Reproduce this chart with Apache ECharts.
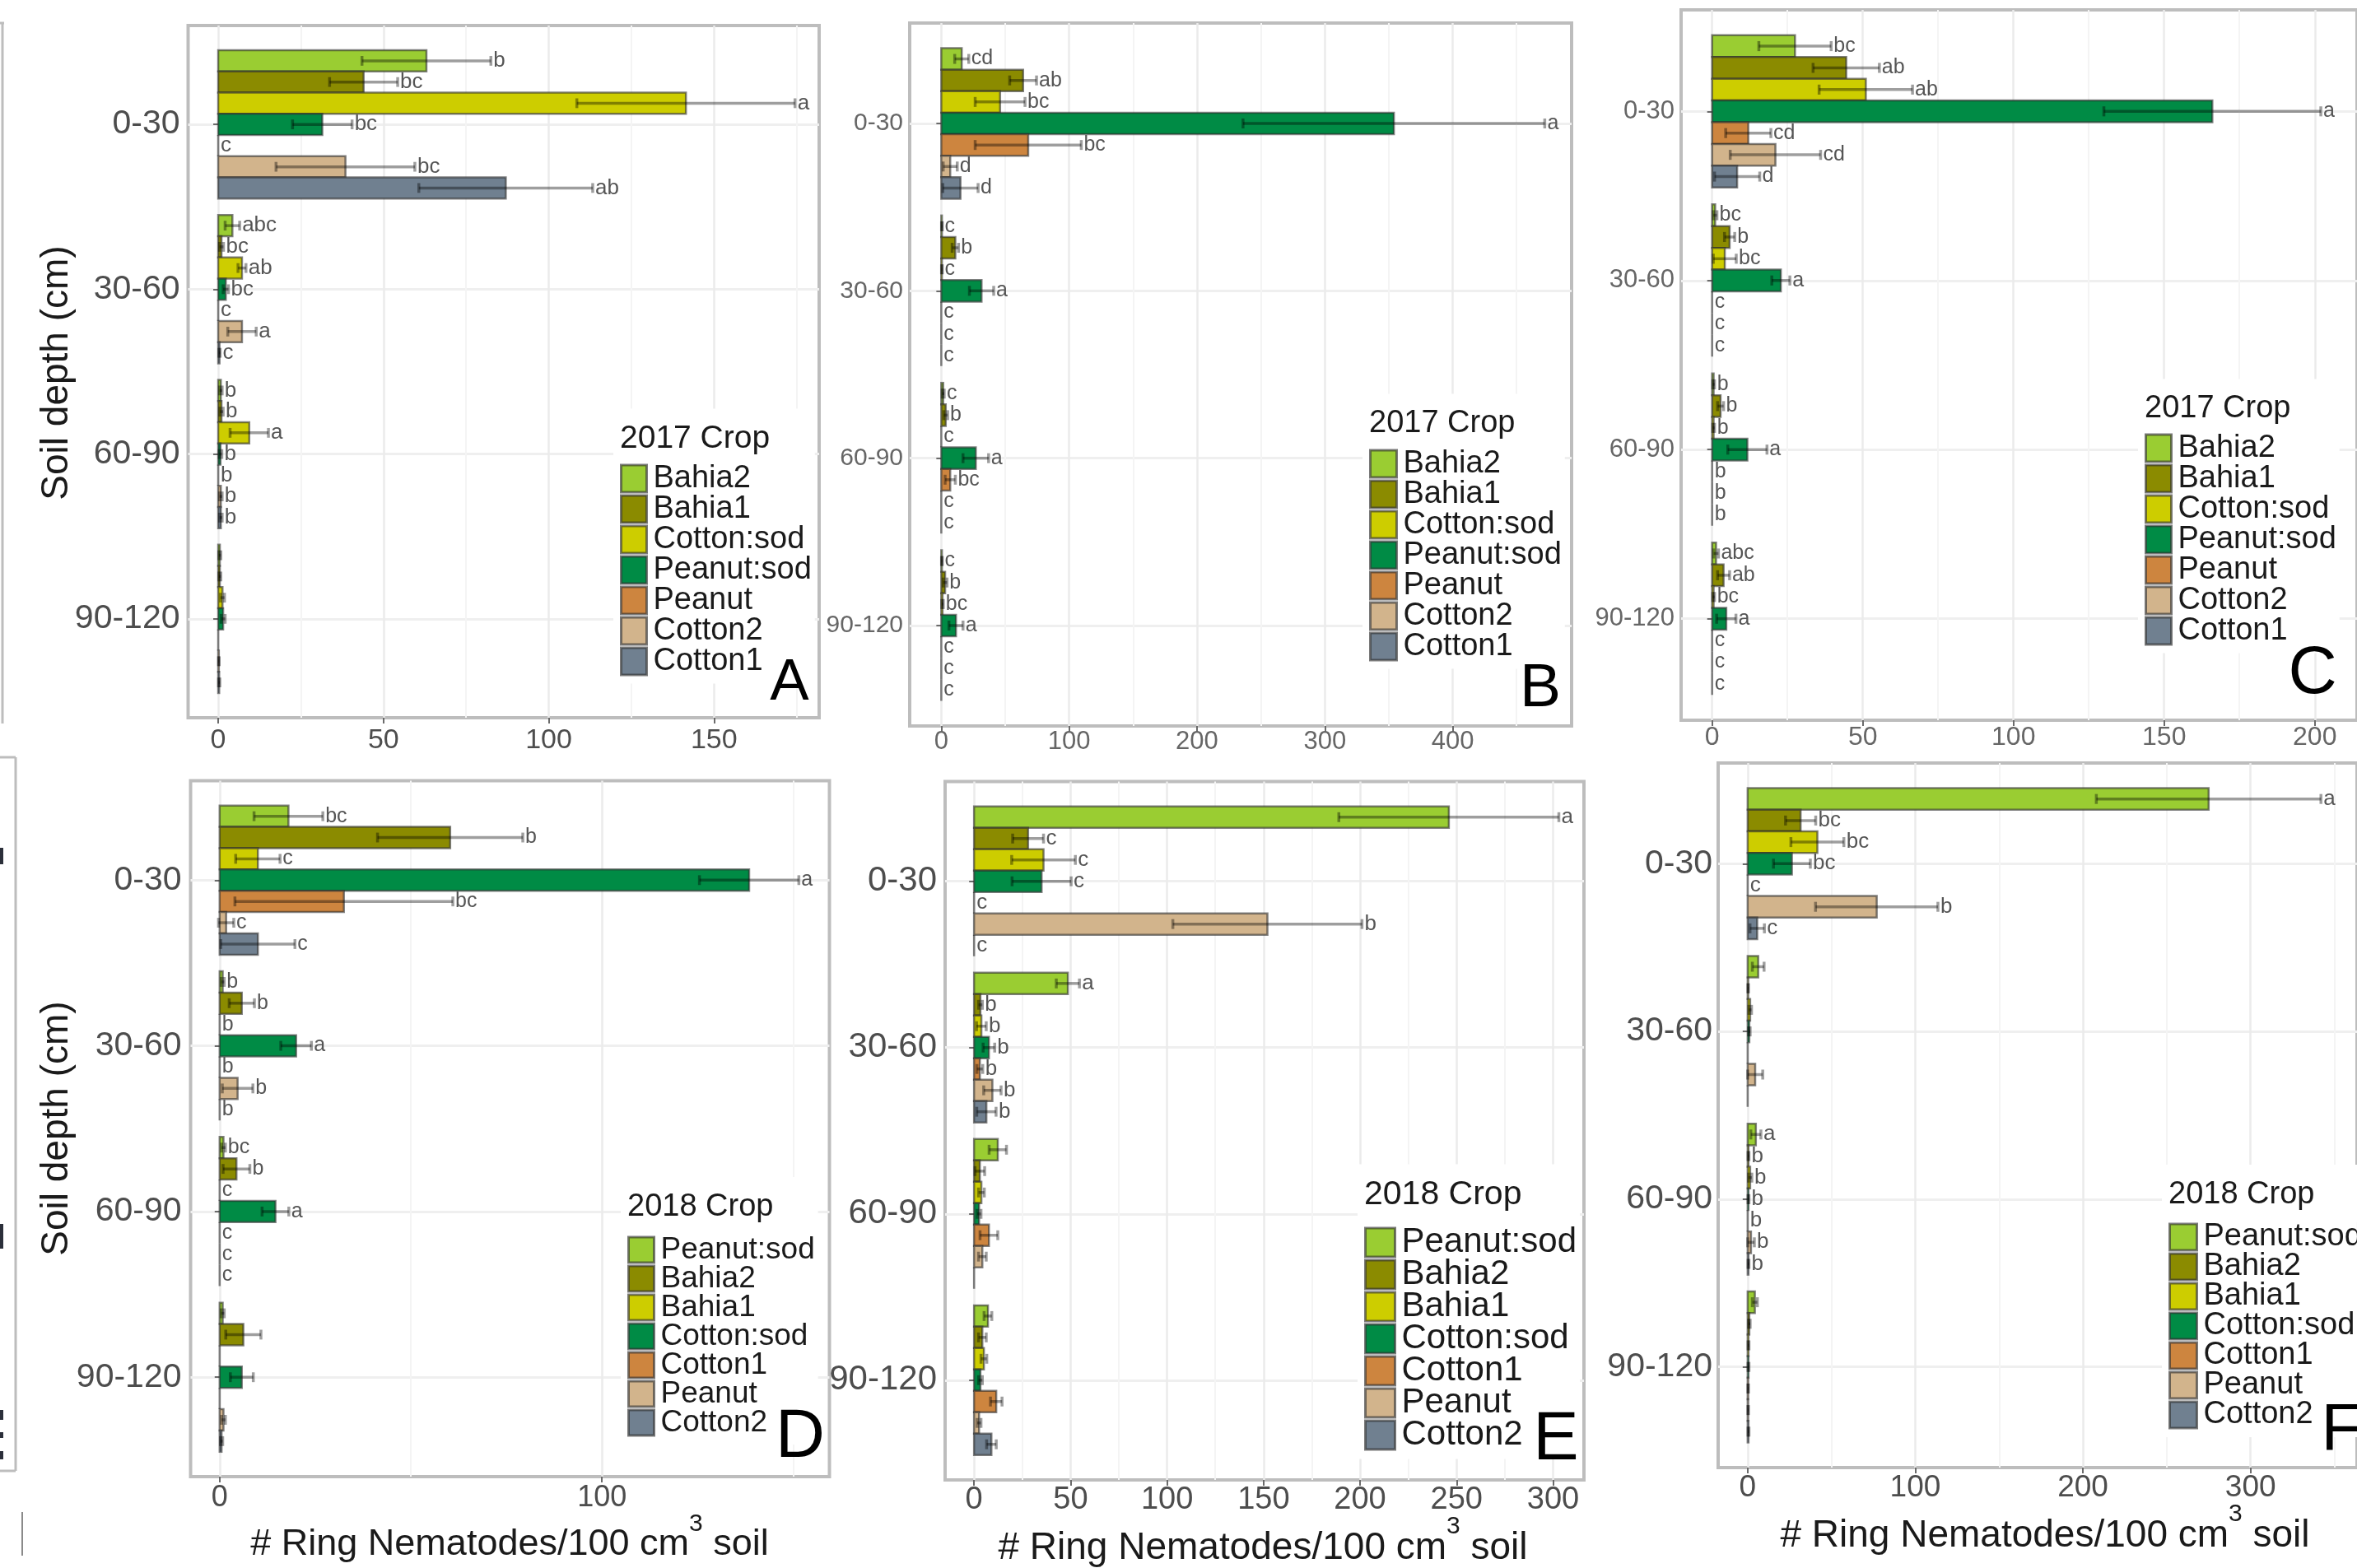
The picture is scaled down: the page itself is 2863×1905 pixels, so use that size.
<!DOCTYPE html>
<html>
<head>
<meta charset="utf-8">
<script src="https://cdn.jsdelivr.net/npm/echarts@6/dist/echarts.min.js"></script>
<style>
  html, body { margin: 0; padding: 0; background: #ffffff; }
  #chart { width: 2863px; height: 1905px; }
</style>
</head>
<body>
<div id="chart"></div>
<script>
// ---------- categories ----------
const depths = ['0-30', '30-60', '60-90', '90-120'];
const crops2017 = ['Bahia2', 'Bahia1', 'Cotton:sod', 'Peanut:sod', 'Peanut', 'Cotton2', 'Cotton1'];
const crops2018 = ['Peanut:sod', 'Bahia2', 'Bahia1', 'Cotton:sod', 'Cotton1', 'Peanut', 'Cotton2'];

// ---------- values: rows = depth, columns = crop (legend order) ----------
// Panel A (2017)
const meanA = [
  [63, 44, 141.5, 31.5, 0, 38.5, 87],
  [4.3, 1, 7.2, 2.3, 0, 7.2, 0.4],
  [0.8, 1, 9.4, 0.7, 0, 0.8, 0.8],
  [0.5, 0.5, 1.3, 1.5, 0, 0.2, 0.3]
];
const seA = [
  [19.5, 10.3, 33, 9, 0, 21, 26.3],
  [2.2, 0.6, 1.2, 0.8, 0, 4.3, 0.2],
  [0.4, 0.5, 5.8, 0.4, 0, 0.4, 0.4],
  [0.3, 0.3, 0.6, 0.6, 0, 0.1, 0.2]
];
const letterA = [
  ['b', 'bc', 'a', 'bc', 'c', 'bc', 'ab'],
  ['abc', 'bc', 'ab', 'bc', 'c', 'a', 'c'],
  ['b', 'b', 'a', 'b', 'b', 'b', 'b'],
  ['', '', '', '', '', '', '']
];
// Panel B (2017)
const meanB = [
  [16, 64, 46, 354, 68, 7, 15],
  [0.5, 11, 0.5, 31.5, 0, 0, 0],
  [1.5, 3.5, 0, 27, 7, 0, 0],
  [0.5, 3, 1, 11.5, 0, 0, 0]
];
const seB = [
  [5.5, 10.5, 19.5, 118, 41.5, 5.5, 13.8],
  [0.3, 2.5, 0.3, 9.5, 0, 0, 0],
  [0.8, 1.5, 0, 10, 4, 0, 0],
  [0.3, 1.5, 0.6, 5.5, 0, 0, 0]
];
const letterB = [
  ['cd', 'ab', 'bc', 'a', 'bc', 'd', 'd'],
  ['c', 'b', 'c', 'a', 'c', 'c', 'c'],
  ['c', 'b', 'c', 'a', 'bc', 'c', 'c'],
  ['c', 'b', 'bc', 'a', 'c', 'c', 'c']
];
// Panel C (2017)
const meanC = [
  [27.5, 44.5, 51, 166, 12, 21, 8.3],
  [1, 5.8, 4.2, 22.8, 0, 0, 0],
  [0.5, 2.8, 0.5, 11.7, 0, 0, 0],
  [1.3, 3.8, 0.5, 4.7, 0, 0, 0]
];
const seC = [
  [12, 11, 15.5, 36, 7.5, 15, 7.5],
  [0.6, 1.7, 3.8, 3, 0, 0, 0],
  [0.3, 1, 0.3, 6.5, 0, 0, 0],
  [0.8, 2, 0.3, 3.2, 0, 0, 0]
];
const letterC = [
  ['bc', 'ab', 'ab', 'a', 'cd', 'cd', 'd'],
  ['bc', 'b', 'bc', 'a', 'c', 'c', 'c'],
  ['b', 'b', 'b', 'a', 'b', 'b', 'b'],
  ['abc', 'ab', 'bc', 'a', 'c', 'c', 'c']
];
// Panel D (2018)
const meanD = [
  [18, 60.3, 10, 138.5, 32.5, 1.7, 10],
  [0.8, 5.8, 0, 20, 0, 4.7, 0],
  [1, 4.4, 0, 14.6, 0, 0, 0],
  [0.8, 6.2, 0, 5.8, 0, 1, 0.5]
];
const seD = [
  [9, 19, 5.8, 13, 28.5, 2, 9.7],
  [0.4, 3.3, 0, 4, 0, 4, 0],
  [0.5, 3.5, 0, 3.5, 0, 0, 0],
  [0.4, 4.6, 0, 3, 0, 0.5, 0.3]
];
const letterD = [
  ['bc', 'b', 'c', 'a', 'bc', 'c', 'c'],
  ['b', 'b', 'b', 'a', 'b', 'b', 'b'],
  ['bc', 'b', 'c', 'a', 'c', 'c', 'c'],
  ['', '', '', '', '', '', '']
];
// Panel E (2018)
const meanE = [
  [246, 28, 36, 35, 0, 152, 0],
  [48.6, 3.3, 3.8, 7.7, 3, 9.5, 6.4],
  [12.3, 3, 3.8, 2.6, 7.7, 4.3, 0],
  [7.2, 4.3, 5.1, 3.3, 11.5, 2.6, 9]
];
const seE = [
  [57, 8, 16.5, 15.3, 0, 49, 0],
  [6, 1, 2.5, 3, 1.5, 4.5, 5],
  [4.5, 2.5, 1.5, 1, 4.6, 2, 0],
  [2, 2, 1.5, 1, 3, 1, 2.5]
];
const letterE = [
  ['a', 'c', 'c', 'c', 'c', 'b', 'c'],
  ['a', 'b', 'b', 'b', 'b', 'b', 'b'],
  ['', '', '', '', '', '', ''],
  ['', '', '', '', '', '', '']
];
// Panel F (2018)
const meanF = [
  [275, 31.6, 41.6, 26.4, 0, 77, 5.7],
  [6.3, 0.3, 1.5, 1, 0, 4.5, 0],
  [4.9, 0.5, 1.5, 0.5, 0, 2, 0.5],
  [4.3, 1, 0.5, 0.5, 0.3, 0.3, 0.5]
];
const seF = [
  [67, 9, 15.8, 11, 0, 36.5, 4.3],
  [3.5, 0.2, 0.8, 0.5, 0, 4.5, 0],
  [3, 0.3, 1, 0.3, 0, 2, 0.3],
  [1.5, 0.5, 0.3, 0.3, 0.2, 0.2, 0.3]
];
const letterF = [
  ['a', 'bc', 'bc', 'bc', 'c', 'b', 'c'],
  ['', '', '', '', '', '', ''],
  ['a', 'b', 'b', 'b', 'b', 'b', 'b'],
  ['', '', '', '', '', '', '']
];

// ---------- tick labels ----------
const ticksA = [0, 50, 100, 150];
const minorA = [25, 75, 125, 175];
const ticksB = [0, 100, 200, 300, 400];
const minorB = [50, 150, 250, 350, 450];
const ticksC = [0, 50, 100, 150, 200];
const minorC = [25, 75, 125, 175];
const ticksD = [0, 100];
const minorD = [50, 150];
const ticksE = [0, 50, 100, 150, 200, 250, 300];
const minorE = [25, 75, 125, 175, 225, 275];
const ticksF = [0, 100, 200, 300];
const minorF = [50, 150, 250, 350];
const depthTicks = depths.map((d, i) => i + 1);

const legendTitle2017 = '2017 Crop';
const legendTitle2018 = '2018 Crop';
const xTitle = ['# Ring Nematodes/100 cm', '3', ' soil'];
const yTitle = 'Soil depth (cm)';

// ---------- styling ----------
const FONT = "'Liberation Sans', Arial, Helvetica, sans-serif";
const palette = ['#9ACD32', '#8B8B00', '#CDCD00', '#008B45', '#CD853F', '#D2B48C', '#708090'];
const barStroke = 'rgba(45,45,45,0.6)';
const errColor = 'rgba(0,0,0,0.38)';

// ---------- panel layout ----------
const panels = [
  { id: 'A', crops: crops2017, mean: meanA, se: seA, letters: letterA, ticks: ticksA, minor: minorA,
    xr: [-9.1, 181.8], grid: [228.5, 31, 766.5, 841],
    xFont: 34, xMargin: 11, yFont: 41, yMargin: 10, labelColor: '#4d4d4d', letterFont: 26,
    legend: { title: legendTitle2017, x: 753, top: 565, keyW: 31, keyH: 33, row: 37, font: 38, titleY: 533, titleFont: 39 },
    tag: { x: 959, y: 830, size: 71 } },
  { id: 'B', crops: crops2017, mean: meanB, se: seB, letters: letterB, ticks: ticksB, minor: minorB,
    xr: [-24.7, 493], grid: [1105, 28, 804, 854],
    xFont: 31, xMargin: 4, yFont: 30, yMargin: 8, labelColor: '#666666', letterFont: 25,
    legend: { title: legendTitle2017, x: 1663, top: 547, keyW: 32, keyH: 33, row: 37, font: 38, titleY: 515, titleFont: 38 },
    tag: { x: 1871, y: 837, size: 75 } },
  { id: 'C', crops: crops2017, mean: meanC, se: seC, letters: letterC, ticks: ticksC, minor: minorC,
    xr: [-10.3, 214], grid: [2042, 12, 825, 863],
    xFont: 32, xMargin: 5, yFont: 31, yMargin: 8, labelColor: '#666666', letterFont: 25,
    legend: { title: legendTitle2017, x: 2605, top: 528, keyW: 31, keyH: 33, row: 37, font: 38, titleY: 497, titleFont: 38 },
    tag: { x: 2809, y: 819, size: 82 } },
  { id: 'D', crops: crops2018, mean: meanD, se: seD, letters: letterD, ticks: ticksD, minor: minorD,
    xr: [-7.6, 159.5], grid: [231.5, 948.5, 776, 845.5],
    xFont: 36, xMargin: 8, yFont: 41, yMargin: 11, labelColor: '#4d4d4d', letterFont: 25,
    legend: { title: legendTitle2018, x: 762, top: 1503, keyW: 31, keyH: 31, row: 35, font: 37, titleY: 1467, titleFont: 38 },
    tag: { x: 972, y: 1747, size: 83 }, xTitle: { x: 619, y: 1872, size: 45 } },
  { id: 'E', crops: crops2018, mean: meanE, se: seE, letters: letterE, ticks: ticksE, minor: minorE,
    xr: [-15, 316], grid: [1148, 949.5, 776, 848.5],
    xFont: 38, xMargin: 6, yFont: 42, yMargin: 10, labelColor: '#4d4d4d', letterFont: 26,
    legend: { title: legendTitle2018, x: 1657, top: 1492, keyW: 36, keyH: 35, row: 39, font: 42, titleY: 1452, titleFont: 41 },
    tag: { x: 1890, y: 1750, size: 83 }, xTitle: { x: 1534, y: 1876, size: 46 } },
  { id: 'F', crops: crops2018, mean: meanF, se: seF, letters: letterF, ticks: ticksF, minor: minorF,
    xr: [-17.6, 363.5], grid: [2087, 927, 804, 856],
    xFont: 37, xMargin: 6, yFont: 41, yMargin: 7, labelColor: '#4d4d4d', letterFont: 26,
    legend: { title: legendTitle2018, x: 2634, top: 1487, keyW: 33, keyH: 32, row: 36, font: 38, titleY: 1452, titleFont: 38 },
    tag: { x: 2844, y: 1739, size: 80 }, xTitle: { x: 2484, y: 1861, size: 46 } }
];

// One dodged bar with its error bar and significance letter.
function renderBar(api, slot, letter, color, fontSize) {
  const v = api.value(0);
  const depth = api.value(1);
  const se = api.value(2);
  const band = 0.9 / 7;
  const yc = depth - 0.45 + (slot + 0.5) * band;
  const a = api.coord([0, yc - band / 2]);
  const b = api.coord([v, yc + band / 2]);
  const c = api.coord([v, yc]);
  const top = Math.min(a[1], b[1]);
  const h = Math.abs(b[1] - a[1]);
  const children = [{
    type: 'rect',
    shape: { x: a[0], y: top, width: b[0] - a[0], height: h },
    style: { fill: color, stroke: barStroke, lineWidth: 2.5 }
  }];
  let labelX = c[0];
  if (se > 0) {
    const lo = api.coord([v - se, yc]);
    const hi = api.coord([v + se, yc]);
    const cap = h * 0.23;
    const st = { stroke: errColor, lineWidth: 3.5 };
    children.push({ type: 'line', shape: { x1: lo[0], y1: c[1], x2: hi[0], y2: c[1] }, style: st });
    children.push({ type: 'line', shape: { x1: lo[0], y1: c[1] - cap, x2: lo[0], y2: c[1] + cap }, style: st });
    children.push({ type: 'line', shape: { x1: hi[0], y1: c[1] - cap, x2: hi[0], y2: c[1] + cap }, style: st });
    labelX = hi[0];
  }
  if (letter) {
    children.push({
      type: 'text', x: labelX + 3, y: c[1],
      style: { text: letter, fill: '#555555', fontSize: fontSize, fontFamily: FONT, align: 'left', verticalAlign: 'middle' }
    });
  }
  return { type: 'group', children: children };
}

const grids = [], xAxes = [], yAxes = [], series = [], legends = [], graphics = [];

panels.forEach((p, pi) => {
  grids.push({
    left: p.grid[0], top: p.grid[1], width: p.grid[2], height: p.grid[3],
    show: true, borderColor: '#bdbdbd', borderWidth: 4, backgroundColor: 'rgba(0,0,0,0)'
  });
  xAxes.push({
    gridIndex: pi, type: 'value', min: p.xr[0], max: p.xr[1], position: 'bottom',
    axisLine: { show: false },
    axisTick: { show: true, customValues: p.ticks, length: 7, lineStyle: { color: '#6b6b6b', width: 2 } },
    axisLabel: { customValues: p.ticks, fontSize: p.xFont, fontFamily: FONT, color: p.labelColor, margin: p.xMargin },
    splitLine: { show: true, lineStyle: { color: '#ebebeb', width: 2.5 } }
  });
  xAxes.push({
    gridIndex: pi, type: 'value', min: p.xr[0], max: p.xr[1], position: 'top',
    axisLine: { show: false }, axisLabel: { show: false },
    axisTick: { show: false, customValues: p.minor },
    splitLine: { show: true, lineStyle: { color: '#f4f4f4', width: 2 } }
  });
  yAxes.push({
    gridIndex: pi, type: 'value', inverse: true, min: 0.4, max: 4.6,
    axisLine: { show: false },
    axisTick: { show: true, customValues: depthTicks, length: 6, lineStyle: { color: '#6b6b6b', width: 2 } },
    axisLabel: {
      customValues: depthTicks, fontSize: p.yFont, fontFamily: FONT, color: p.labelColor, margin: p.yMargin,
      formatter: (v) => depths[Math.round(v) - 1]
    },
    splitLine: { show: true, lineStyle: { color: '#efefef', width: 3 } }
  });

  p.crops.forEach((crop, ci) => {
    series.push({
      type: 'custom', name: crop, coordinateSystem: 'cartesian2d',
      xAxisIndex: pi * 2, yAxisIndex: pi, silent: true, z: 3,
      itemStyle: { color: palette[ci] },
      encode: { x: 0, y: 1 },
      data: depths.map((d, di) => [p.mean[di][ci], di + 1, p.se[di][ci]]),
      renderItem: (params, api) => renderBar(api, ci, p.letters[params.dataIndex][ci], palette[ci], p.letterFont)
    });
  });

  // legend: each entry's height is the taller of key and text, so the gap
  // is chosen to give the wanted row pitch
  const L = p.legend;
  const itemH = Math.max(L.keyH, L.font);
  const pad = [L.top - L.titleY + 34, 4, 8, 8];
  legends.push({
    orient: 'vertical',
    left: L.x - pad[3],
    top: L.top - pad[0] - (itemH - L.keyH) / 2,
    padding: pad,
    backgroundColor: '#ffffff', selectedMode: false, icon: 'rect',
    itemWidth: L.keyW, itemHeight: L.keyH, itemGap: L.row - itemH,
    textStyle: { fontSize: L.font, fontFamily: FONT, color: '#1a1a1a', padding: [0, 0, 0, 3] },
    data: p.crops.map((c, ci) => ({
      name: c,
      itemStyle: { color: palette[ci], borderColor: 'rgba(50,50,50,0.65)', borderWidth: 3 }
    }))
  });

  graphics.push({
    type: 'text', x: L.x, y: L.titleY, z: 100,
    style: { text: L.title, fontSize: L.titleFont, fontFamily: FONT, fill: '#1a1a1a', align: 'left', verticalAlign: 'middle' }
  });
  graphics.push({
    type: 'text', x: p.tag.x, y: p.tag.y, z: 100,
    style: { text: p.id, fontSize: p.tag.size, fontFamily: FONT, fill: '#000000', align: 'center', verticalAlign: 'middle' }
  });
  if (p.xTitle) {
    const T = p.xTitle;
    const sup = Math.round(T.size * 0.66);
    graphics.push({
      type: 'text', x: T.x, y: T.y - 4, z: 100,
      style: {
        text: '{t|' + xTitle[0] + '}{s|' + xTitle[1] + '}{t|' + xTitle[2] + '}',
        align: 'center', verticalAlign: 'middle',
        rich: {
          t: { fontSize: T.size, fontFamily: FONT, fill: '#1a1a1a', lineHeight: T.size + 18, verticalAlign: 'bottom' },
          s: { fontSize: sup, fontFamily: FONT, fill: '#1a1a1a', lineHeight: sup, verticalAlign: 'top' }
        }
      }
    });
  }
});

// vertical axis titles
[[69, 453], [69.5, 1371]].forEach(([x, y]) => {
  graphics.push({
    type: 'text', x: x, y: y, rotation: Math.PI / 2, z: 100,
    style: { text: yTitle, fontSize: 46, fontFamily: FONT, fill: '#1a1a1a', align: 'center', verticalAlign: 'middle' }
  });
});

// edge of the neighbouring figure frame
const edgeGray = { stroke: '#bdbdbd', lineWidth: 3 };
graphics.push({ type: 'line', shape: { x1: 3, y1: 28, x2: 3, y2: 879 }, style: edgeGray });
graphics.push({ type: 'line', shape: { x1: 0, y1: 28, x2: 5, y2: 28 }, style: edgeGray });
graphics.push({ type: 'line', shape: { x1: 19, y1: 920, x2: 19, y2: 1787 }, style: edgeGray });
graphics.push({ type: 'line', shape: { x1: 0, y1: 920, x2: 19, y2: 920 }, style: edgeGray });
graphics.push({ type: 'line', shape: { x1: 0, y1: 1787, x2: 19, y2: 1787 }, style: edgeGray });
graphics.push({ type: 'line', shape: { x1: 27, y1: 1837, x2: 27, y2: 1890 }, style: { stroke: '#8a8a8a', lineWidth: 2 } });
[[1030, 20], [1487, 30], [1713, 12], [1740, 7], [1763, 10]].forEach(([y, h]) => {
  graphics.push({ type: 'rect', shape: { x: 0, y: y, width: 4, height: h }, style: { fill: '#2b2f3a' } });
});

const chart = echarts.init(document.getElementById('chart'), null, { renderer: 'canvas' });
chart.setOption({
  animation: false,
  backgroundColor: '#ffffff',
  grid: grids,
  xAxis: xAxes,
  yAxis: yAxes,
  legend: legends,
  series: series,
  graphic: graphics
});
</script>
</body>
</html>
